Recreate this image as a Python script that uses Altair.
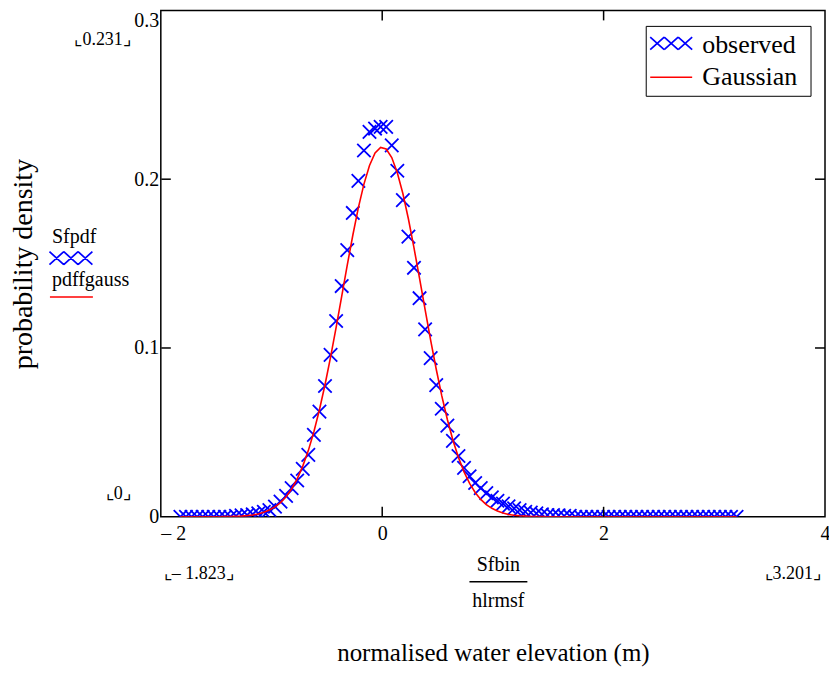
import altair as alt
import numpy as np
import pandas as pd

SERIF = "Liberation Serif"

# ---- data ----
x_first, x_last, n_pts = -1.823, 3.201, 101   # bin range shown by Mathcad (⌞-1.823⌟ .. ⌞3.201⌟)

observed = [
    0, 0, 0, 0, 0, 0, 0, 0, 0, 0,
    0.0005, 0.0008, 0.001, 0.0015, 0.002, 0.003, 0.004, 0.006, 0.009, 0.0124,
    0.017, 0.0215, 0.0284, 0.0367, 0.0485, 0.0623, 0.0775, 0.0959, 0.116, 0.1367,
    0.158, 0.180, 0.199, 0.217, 0.228, 0.230, 0.231, 0.231, 0.220, 0.205,
    0.1876, 0.166, 0.1475, 0.1295, 0.111, 0.094, 0.078, 0.064, 0.054, 0.045,
    0.036, 0.029, 0.024, 0.020, 0.017, 0.014, 0.0115, 0.0095, 0.0078, 0.0062,
    0.005, 0.004, 0.003, 0.0025, 0.002, 0.0015, 0.001, 0.001, 0.0008, 0.0005,
    0.0005, 0, 0, 0, 0, 0, 0, 0, 0, 0,
    0, 0, 0, 0, 0, 0, 0, 0, 0, 0,
    0, 0, 0, 0, 0, 0, 0, 0, 0, 0,
    0,
]

gaussian = [
    0, 0, 0, 0, 0, 0, 0, 0, 0.0001, 0.0002,
    0.0003, 0.0004, 0.0007, 0.0011, 0.0017, 0.0027, 0.0040, 0.0059, 0.0084, 0.0119,
    0.0165, 0.0225, 0.0300, 0.0392, 0.0504, 0.0634, 0.0782, 0.0946, 0.1122, 0.1306,
    0.1491, 0.1668, 0.1832, 0.1971, 0.2081, 0.2155, 0.2188, 0.2179, 0.2128, 0.2038,
    0.1915, 0.1764, 0.1593, 0.1412, 0.1227, 0.1045, 0.0874, 0.0716, 0.0576, 0.0454,
    0.0351, 0.0266, 0.0198, 0.0144, 0.0103, 0.0072, 0.0050, 0.0034, 0.0022, 0.0014,
    0.0009, 0.0006, 0.0004, 0.0002, 0.0001, 0.0001, 0, 0, 0, 0,
    0, 0, 0, 0, 0, 0, 0, 0, 0, 0,
    0, 0, 0, 0, 0, 0, 0, 0, 0, 0,
    0, 0, 0, 0, 0, 0, 0, 0, 0, 0,
    0,
]

x_tick_values = [-2, 0, 2, 4]
y_tick_values = [0, 0.1, 0.2, 0.3]
inner_x_ticks = [0, 2]
inner_y_ticks = [0.1, 0.2]
series_names = ["observed", "Gaussian"]

# ---- layout ----
W, H = 665, 507
OX, OY = 161, 10           # page position of the plot origin
TICK = 10

sfbin = np.linspace(x_first, x_last, n_pts)
df = pd.DataFrame({"x": sfbin, "obs": observed, "gauss": gaussian})

xscale = alt.Scale(domain=[-2, 4], nice=False, zero=False)
yscale = alt.Scale(domain=[0, 0.3], nice=False, zero=False)

X_PATH = "M-1,-1L1,1M-1,1L1,-1"
XXX_PATH = ("M-1,-0.3L-0.333,0.3M-1,0.3L-0.333,-0.3"
            "M-0.333,-0.3L0.333,0.3M-0.333,0.3L0.333,-0.3"
            "M0.333,-0.3L1,0.3M0.333,0.3L1,-0.3")

x_axis = alt.Axis(
    values=x_tick_values, grid=False, domain=False, ticks=False, tickSize=0,
    labelFont=SERIF, labelFontSize=20, labelColor="black", labelPadding=7,
    labelFlush=False,
    labelExpr="datum.value < 0 ? '\u2013 ' + abs(datum.value) : datum.label",
    labelAlign={"condition": {"test": "datum.value == -2", "value": "left"}, "value": "center"},
    title="normalised water elevation (m)", titleFont=SERIF, titleFontSize=25,
    titleFontWeight="normal", titleColor="black", titleY=136, titleBaseline="middle",
)
y_axis = alt.Axis(
    values=y_tick_values, grid=False, domain=False, ticks=False, tickSize=0,
    labelFont=SERIF, labelFontSize=20, labelColor="black", labelPadding=2,
    labelExpr="datum.value == 0 ? '0' : format(datum.value, '.1f')",
    labelBaseline={"condition": {"test": "datum.value == 0.3", "value": "top"}, "value": "middle"},
    title="probability density", titleFont=SERIF, titleFontSize=28,
    titleFontWeight="normal", titleColor="black", titleAngle=270,
    titleX=24 - OX, titleY=H / 2, titleBaseline="middle", titleAlign="center",
)

base = alt.Chart(df)
gauss_line = base.mark_line(color="#ff0000", strokeWidth=1.6, clip=True).encode(
    x=alt.X("x:Q", scale=xscale, axis=x_axis),
    y=alt.Y("gauss:Q", scale=yscale, axis=y_axis),
)
obs_points = base.mark_point(shape=X_PATH, size=180, filled=False, color="#0000ff",
                             strokeWidth=1.8, opacity=1, clip=True).encode(
    x=alt.X("x:Q", scale=xscale, axis=x_axis),
    y=alt.Y("obs:Q", scale=yscale, axis=y_axis),
)

# inward ticks on all four sides
xt = alt.Chart(pd.DataFrame({"v": inner_x_ticks}))
yt = alt.Chart(pd.DataFrame({"v": inner_y_ticks}))
tick_style = dict(color="black", strokeWidth=1.5)
ticks_bottom = xt.mark_rule(**tick_style).encode(
    x=alt.X("v:Q", scale=xscale, axis=x_axis), y=alt.value(H), y2=alt.value(H - TICK))
ticks_top = xt.mark_rule(**tick_style).encode(
    x=alt.X("v:Q", scale=xscale, axis=x_axis), y=alt.value(0.5), y2=alt.value(TICK))
ticks_left = yt.mark_rule(**tick_style).encode(
    y=alt.Y("v:Q", scale=yscale, axis=y_axis), x=alt.value(TICK), x2=alt.value(0.5))
ticks_right = yt.mark_rule(**tick_style).encode(
    y=alt.Y("v:Q", scale=yscale, axis=y_axis), x=alt.value(W - TICK), x2=alt.value(W))


def label(text, px, py, size=20, align="left", color="black", baseline="middle"):
    return alt.Chart(pd.DataFrame({"t": [text]})).mark_text(
        align=align, baseline=baseline, font=SERIF, fontSize=size, color=color
    ).encode(text="t:N", x=alt.value(px - OX), y=alt.value(py - OY))


def hline(x1, x2, py, color="black", width=1.0):
    return alt.Chart(pd.DataFrame({"a": [0]})).mark_rule(color=color, strokeWidth=width).encode(
        x=alt.value(x1 - OX), x2=alt.value(x2 - OX), y=alt.value(py - OY))


def glyph(path, size, px, py, color):
    return alt.Chart(pd.DataFrame({"a": [0]})).mark_point(
        shape=path, size=size, filled=False, color=color, strokeWidth=1.7, opacity=1
    ).encode(x=alt.value(px - OX), y=alt.value(py - OY))


# Mathcad placeholders / limit annotations
annots = [
    label("\u231e0.231\u231f", 131, 40, size=18, align="right"),
    label("\u231e0\u231f", 131, 494, size=18, align="right"),
    label("\u231e\u2013 1.823\u231f", 164, 574, size=18, align="left"),
    label("\u231e3.201\u231f", 822, 574, size=18, align="right"),
    label("Sfbin", 499, 565, size=20, align="center"),
    hline(470, 528, 582, width=1.5),
    label("hlrmsf", 499, 601, size=20, align="center"),
    label("Sfpdf", 52, 237, size=20),
    glyph(XXX_PATH, 43 * 43, 71, 258, "#0000ff"),
    label("pdffgauss", 52, 280, size=20),
    hline(50, 93, 297, color="#ff0000", width=1.6),
]

# legend box
legend_box = alt.Chart(pd.DataFrame({"a": [0]})).mark_rect(
    fill="white", stroke="black", strokeWidth=1
).encode(x=alt.value(647 - OX), x2=alt.value(812 - OX), y=alt.value(26 - OY), y2=alt.value(96 - OY))
legend = [
    legend_box,
    glyph(XXX_PATH, 42 * 42, 672, 43, "#0000ff"),
    label(series_names[0], 703, 53, size=26, baseline="alphabetic"),
    hline(651, 693, 77, color="#ff0000", width=1.6),
    label(series_names[1], 703, 85, size=26, baseline="alphabetic"),
]

chart = alt.layer(
    obs_points, gauss_line,
    ticks_bottom, ticks_top, ticks_left, ticks_right,
    *annots, *legend,
).properties(
    width=W, height=H,
    autosize=alt.AutoSizeParams(type="none"),
    padding={"left": OX - 8, "top": OY - 8, "right": 4, "bottom": 151},
).configure(
    background="white"
).configure_view(
    stroke="black", strokeWidth=1.5
)

chart.save("out.html", embed_options={"renderer": "svg", "actions": False})
